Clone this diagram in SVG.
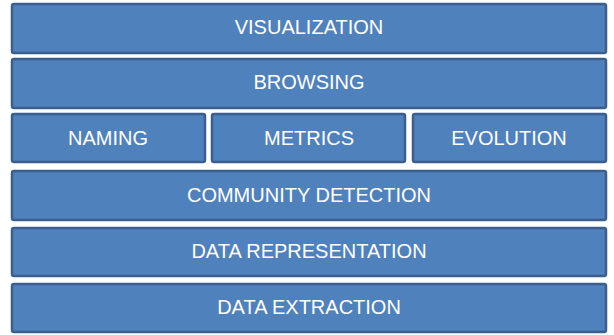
<svg xmlns="http://www.w3.org/2000/svg" width="614" height="335" viewBox="0 0 614 335">
<style>
.b{fill:#4f81bd;stroke:#3a5f8e;stroke-width:2.5}
.t{fill:#ffffff;font-family:"Liberation Sans",Arial,sans-serif;font-size:20px;text-anchor:middle}
</style>
<rect width="614" height="335" fill="#ffffff"/>
<g id="visualization"><rect class="b" x="12" y="4" width="594" height="49" rx="2"/><text class="t" x="309" y="34">VISUALIZATION</text></g>
<g id="browsing"><rect class="b" x="12" y="59" width="594" height="49" rx="2"/><text class="t" x="309" y="89">BROWSING</text></g>
<g id="naming"><rect class="b" x="12" y="114" width="193" height="48" rx="2"/><text class="t" x="108" y="145">NAMING</text></g>
<g id="metrics"><rect class="b" x="212" y="114" width="193" height="48" rx="2"/><text class="t" x="309" y="145">METRICS</text></g>
<g id="evolution"><rect class="b" x="413" y="114" width="193" height="48" rx="2"/><text class="t" x="509" y="145">EVOLUTION</text></g>
<g id="community"><rect class="b" x="12" y="171" width="594" height="49" rx="2"/><text class="t" x="309" y="202">COMMUNITY DETECTION</text></g>
<g id="representation"><rect class="b" x="12" y="228" width="594" height="48" rx="2"/><text class="t" x="309" y="258">DATA REPRESENTATION</text></g>
<g id="extraction"><rect class="b" x="12" y="284" width="594" height="48" rx="2"/><text class="t" x="309" y="314">DATA EXTRACTION</text></g>
<g id="connectors"/>
</svg>
